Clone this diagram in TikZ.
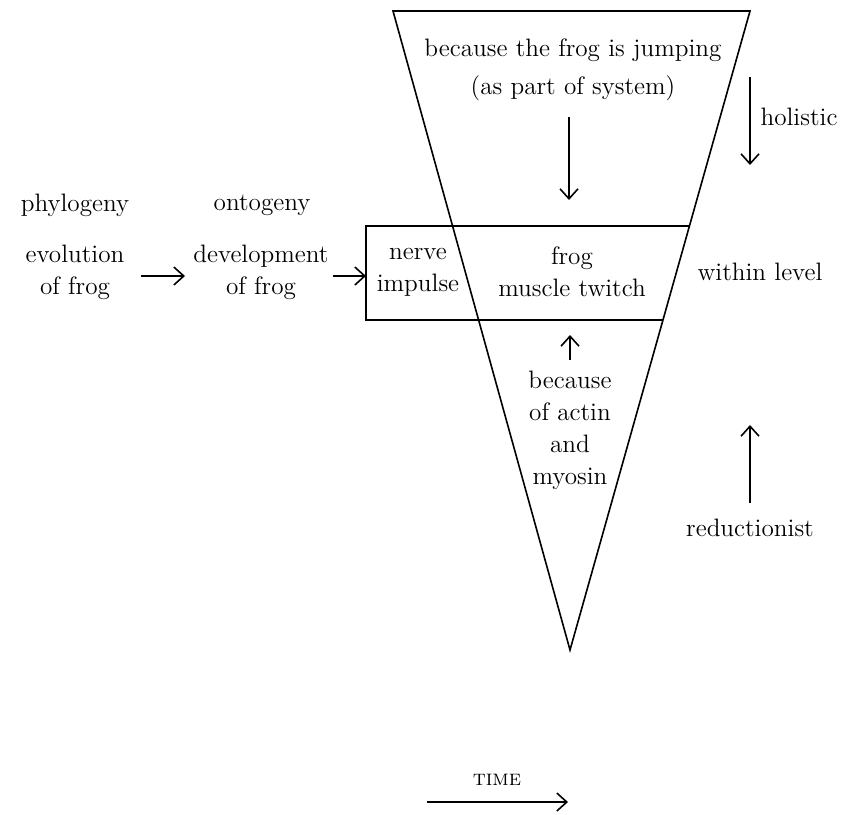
\documentclass[tikz,border=0pt]{standalone}
\usepackage{tikz}
\usetikzlibrary{arrows.meta,positioning,calc}

\begin{document}
\begin{tikzpicture}[x=0.5pt,y=-0.5pt,
    lbl/.style={align=center, inner sep=1pt, font=\fontsize{12.6}{16}\selectfont},
    arr/.style={->, >={Straight Barb[length=5pt,width=9pt]}, line width=0.8pt},
    line width=0.8pt
]
    \useasboundingbox (0,0) rectangle (854,814);

    % Triangle
    \coordinate (topL) at (393,11);
    \coordinate (topR) at (750,11);
    \coordinate (apex) at (570,650);
    \draw (topL) -- (topR) -- (apex) -- cycle;

    % Level box
    \coordinate (boxNW) at (366,226);
    \coordinate (boxSW) at (366,320);
    \coordinate (boxNE) at ($(topR)!0.3365!(apex)$);
    \coordinate (boxSE) at ($(topR)!0.4836!(apex)$);
    \draw (boxNE) -- (boxNW) -- (boxSW) -- (boxSE);

    % Upper part
    \node[lbl] (jump) at (573,50) {because the frog is jumping};
    \node[lbl] (system) at (573,88) {(as part of system)};
    \coordinate (downTop) at (569,117);
    \coordinate (downBot) at (569,200);
    \draw[arr] (downTop) -- (downBot);

    % Inside level
    \node[lbl] (nerve) at (418,272) {nerve\\impulse};
    \node[lbl] (twitch) at (572,272) {frog\\muscle twitch};
    \node[lbl] (within) at (760,272) {within level};

    % Lower part
    \coordinate (upBot) at (570,360);
    \coordinate (upTop) at (570,335);
    \draw[arr] (upBot) -- (upTop);
    \node[lbl, below=4pt of upBot] (actin) {because\\of actin\\and\\myosin};

    % Left side
    \node[lbl] (phylo) at (75,205) {phylogeny};
    \node[lbl] (onto) at (262,205) {ontogeny};
    \node[lbl] (evol) at (75,272) {evolution\\of frog};
    \node[lbl] (devel) at (261,272) {development\\of frog};
    \draw[arr] (141,276) -- (185,276);
    \draw[arr] (333,276) -- (boxNW |- 0,276);

    % Right side
    \coordinate (holTop) at (750,77);
    \coordinate (holBot) at (750,165);
    \draw[arr] (holTop) -- (holBot);
    \node[lbl] (holistic) at (799,117) {holistic};

    \coordinate (redBot) at (750,503);
    \coordinate (redTop) at (750,425);
    \draw[arr] (redBot) -- (redTop);
    \node[lbl] (reduct) at (750,528) {reductionist};

    % Time
    \node[lbl, font=\fontsize{11}{14}\selectfont\scshape] (time) at (497,780) {time};
    \coordinate (timeL) at (427,802);
    \coordinate (timeR) at (568,802);
    \draw[arr] (timeL) -- (timeR);
\end{tikzpicture}
\end{document}
